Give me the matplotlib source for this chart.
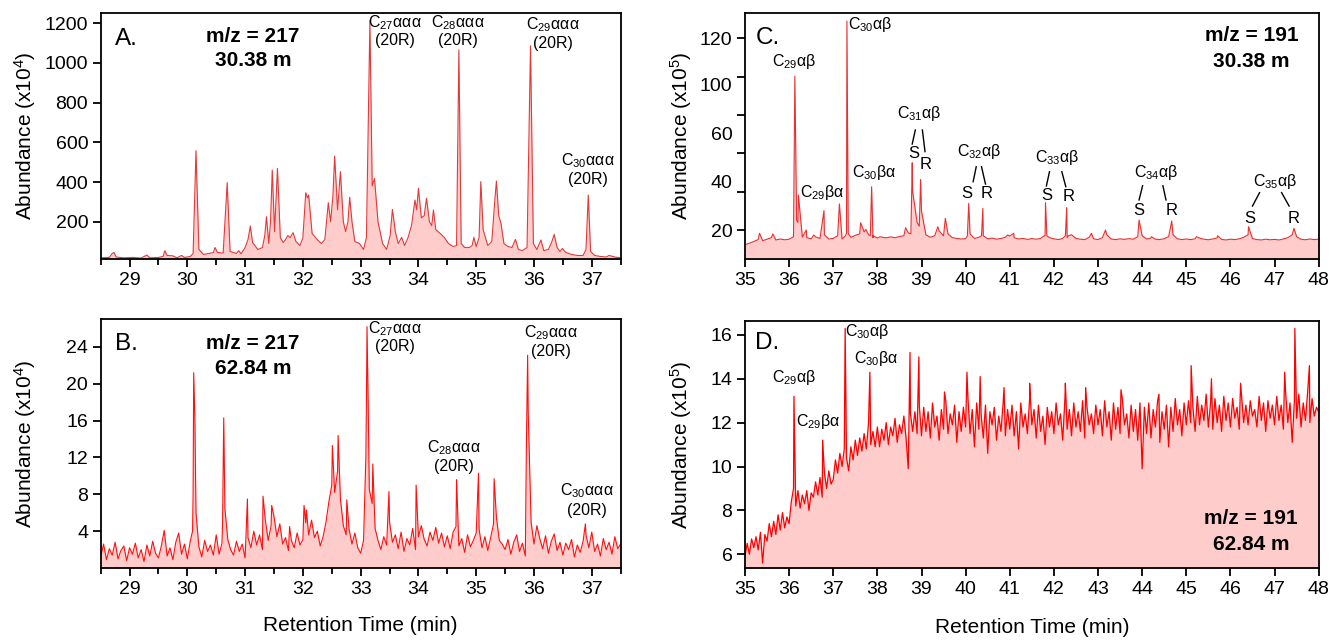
import numpy as np
import matplotlib
matplotlib.use('Agg')
import matplotlib.pyplot as plt
from matplotlib.ticker import MultipleLocator

plt.rcParams['font.family'] = ['Liberation Sans', 'DejaVu Sans']
plt.rcParams['mathtext.fontset'] = 'custom'
plt.rcParams['mathtext.rm'] = 'Liberation Sans'
plt.rcParams['mathtext.it'] = 'Liberation Sans:italic'
plt.rcParams['mathtext.bf'] = 'Liberation Sans:bold'

# --- A: m/z 217, 30.38 m  (time min, abundance x10^4) ---
a_trace = [
    (28.50, 18), (28.65, 20), (28.70, 40), (28.73, 45), (28.77, 22), (28.90, 18),
    (29.05, 20), (29.20, 17), (29.30, 32), (29.35, 18), (29.50, 20), (29.58, 25),
    (29.61, 54), (29.65, 30), (29.75, 28), (29.82, 18), (29.90, 30), (29.95, 20),
    (30.05, 25), (30.10, 40), (30.15, 558), (30.20, 60), (30.28, 35), (30.38, 40),
    (30.45, 45), (30.48, 70), (30.52, 45), (30.62, 42), (30.69, 397), (30.74, 50),
    (30.85, 40), (30.89, 54), (30.93, 38), (31.00, 70), (31.05, 110), (31.09, 178),
    (31.13, 95), (31.22, 60), (31.30, 70), (31.34, 130), (31.37, 225), (31.41, 90),
    (31.44, 200), (31.47, 460), (31.51, 150), (31.56, 469), (31.61, 120), (31.66, 95),
    (31.70, 110), (31.74, 130), (31.78, 120), (31.83, 145), (31.88, 100), (31.95, 80),
    (32.00, 120), (32.05, 346), (32.08, 320), (32.10, 334), (32.16, 140), (32.25, 110),
    (32.32, 90), (32.38, 110), (32.44, 296), (32.48, 200), (32.52, 330), (32.55, 531),
    (32.60, 260), (32.65, 452), (32.70, 200), (32.74, 150), (32.78, 200), (32.81, 323),
    (32.85, 200), (32.90, 100), (32.98, 90), (33.05, 60), (33.10, 120), (33.16, 1213),
    (33.20, 380), (33.24, 418), (33.30, 200), (33.38, 90), (33.45, 60), (33.51, 130),
    (33.55, 262), (33.60, 150), (33.65, 90), (33.71, 121), (33.76, 80), (33.82, 120),
    (33.88, 180), (33.94, 309), (33.97, 260), (34.00, 368), (34.05, 220), (34.10, 230),
    (34.14, 318), (34.19, 200), (34.23, 180), (34.26, 259), (34.30, 160), (34.38, 140),
    (34.45, 120), (34.52, 90), (34.60, 75), (34.66, 80), (34.70, 1066), (34.74, 90),
    (34.80, 70), (34.88, 70), (34.93, 80), (34.96, 121), (35.00, 75), (35.05, 120),
    (35.08, 402), (35.12, 160), (35.20, 80), (35.27, 100), (35.32, 300), (35.35, 405),
    (35.39, 230), (35.43, 190), (35.48, 90), (35.55, 75), (35.62, 70), (35.68, 111),
    (35.73, 60), (35.80, 55), (35.88, 70), (35.94, 1087), (35.99, 90), (36.05, 60),
    (36.12, 108), (36.17, 55), (36.25, 60), (36.31, 100), (36.35, 136), (36.40, 70),
    (36.45, 50), (36.49, 65), (36.55, 45), (36.65, 35), (36.75, 30), (36.85, 30),
    (36.90, 60), (36.94, 334), (36.98, 50), (37.05, 30), (37.15, 25), (37.25, 22),
    (37.30, 30), (37.40, 22), (37.50, 18),
]

# --- B: m/z 217, 62.84 m  (baseline every 0.05 min from 28.5, plus peaks) ---
b_start = 28.5
b_base = [
    1.2, 2.6, 0.9, 2.1, 1.4, 2.8, 1.0, 1.9, 2.4, 0.8, 2.2, 1.5, 2.7, 1.1, 2.0, 0.7, 2.5, 1.3, 2.9, 1.6,
    1.1, 2.4, 4.1, 1.3, 2.2, 0.9, 2.8, 3.8, 1.5, 2.6, 1.0, 2.9, 8.0, 6.0, 2.3, 1.2, 3.0, 1.8, 2.5, 1.4,
    3.6, 1.5, 2.7, 6.5, 3.1, 2.0, 1.4, 2.9, 1.8, 2.6, 1.1, 3.3, 2.2, 4.0, 2.5, 3.6, 2.0, 5.2, 3.0, 4.6,
    5.6, 3.4, 4.8, 2.6, 3.3, 1.9, 3.0, 2.2, 3.8, 2.5, 3.1, 4.9, 3.6, 5.2, 3.3, 4.0, 2.4, 3.4, 5.0, 7.2,
    9.0, 8.2, 10.5, 7.5, 4.6, 3.6, 4.2, 2.6, 3.8, 2.2, 1.6, 3.0, 18.0, 8.5, 7.0, 4.3, 3.0, 2.0, 3.4, 2.5,
    5.0, 2.8, 3.6, 2.1, 3.9, 1.8, 3.2, 2.5, 4.3, 2.0, 3.4, 4.6, 3.1, 2.4, 3.9, 3.0, 4.4, 2.7, 3.8, 2.3,
    3.5, 2.1, 3.9, 4.5, 2.4, 3.2, 1.7, 3.6, 2.3, 3.0, 3.8, 4.2, 2.2, 3.4, 1.9, 3.3, 4.8, 5.5, 3.0, 2.6,
    2.0, 3.1, 1.5, 2.8, 3.6, 1.8, 2.7, 1.3, 17.0, 5.0, 2.6, 4.6, 3.2, 2.1, 3.5, 1.6, 2.9, 3.7, 1.9, 2.8,
    1.4, 2.7, 2.0, 3.1, 1.2, 2.5, 1.7, 2.9, 3.6, 2.2, 3.9, 1.8, 2.6, 1.3, 3.2, 2.0, 2.8, 1.5, 3.4, 2.1,
    2.6,
]
b_peaks = [
    (30.09, 4.0), (30.11, 21.2), (30.13, 16.4), (30.61, 5.0), (30.63, 16.3),
    (31.04, 7.5), (31.31, 7.8), (31.46, 6.8), (31.77, 4.5), (32.02, 6.8),
    (32.06, 6.3), (32.51, 13.3), (32.61, 14.4), (32.76, 7.4), (33.09, 12.0),
    (33.11, 26.2), (33.13, 18.0), (33.21, 11.3), (33.49, 8.3), (33.96, 9.0),
    (34.66, 9.6), (35.04, 10.3), (35.31, 9.7), (35.87, 14.0), (35.89, 23.1),
    (36.89, 4.8),
]

# --- C: m/z 191, 30.38 m  (baseline every 0.1 min from 35, plus peaks) ---
c_start = 35.0
c_base = [
    12.3, 13.1, 14.0, 15.0, 14.4, 15.2, 16.0, 14.8, 15.3, 14.9,
    15.2, 16.5, 24.0, 16.3, 16.0, 15.4, 16.4, 15.6, 17.5, 15.3,
    15.6, 17.0, 15.3, 18.5, 16.2, 17.2, 18.0, 19.0, 17.5, 16.0,
    15.8, 16.3, 15.9, 16.4, 16.0, 16.6, 17.0, 18.5, 40.0, 24.0,
    30.0, 17.5, 16.2, 17.0, 19.5, 17.0, 18.0, 16.0, 15.6, 15.3,
    15.5, 18.0, 15.6, 16.2, 17.0, 15.4, 15.8, 15.2, 15.6, 16.2,
    16.8, 16.0, 15.3, 15.6, 15.1, 15.5, 15.2, 15.6, 17.0, 16.0,
    15.4, 15.0, 15.6, 16.0, 17.5, 15.6, 15.2, 15.0, 16.2, 15.4,
    15.0, 16.0, 17.5, 15.3, 15.0, 15.4, 15.1, 15.5, 15.2, 16.5,
    17.0, 15.3, 15.8, 15.2, 15.0, 15.5, 16.5, 17.5, 15.4, 15.0,
    15.3, 15.0, 15.4, 15.8, 15.2, 14.9, 15.3, 15.9, 15.1, 14.8,
    15.2, 15.0, 15.4, 16.2, 17.5, 15.5, 15.0, 14.8, 15.2, 14.9,
    15.1, 14.8, 15.3, 16.0, 17.5, 16.5, 15.2, 14.9, 15.3, 15.0,
    15.2,
]
c_peaks = [
    (35.33, 18.3), (35.63, 18.0), (36.10, 17.0), (36.13, 100.3), (36.17, 25.0),
    (36.21, 38.3), (36.39, 20.0), (36.56, 17.4), (36.79, 30.1), (37.14, 33.6),
    (37.28, 17.0), (37.31, 129.0), (37.34, 18.0), (37.62, 23.8), (37.74, 20.3),
    (37.84, 17.0), (37.87, 42.6), (37.90, 17.0), (38.06, 16.5), (38.64, 21.2),
    (38.76, 18.0), (38.79, 55.1), (38.95, 22.0), (38.98, 46.4), (39.37, 21.7),
    (39.54, 26.1), (40.04, 17.0), (40.07, 33.9), (40.36, 17.0), (40.39, 31.3),
    (40.95, 17.4), (41.09, 18.3), (41.78, 17.0), (41.81, 34.3), (41.84, 17.0),
    (42.26, 17.0), (42.29, 31.7), (42.33, 17.0), (42.85, 18.3), (43.17, 20.0),
    (43.93, 25.2), (44.21, 16.5), (44.67, 24.7), (45.23, 16.5), (45.71, 17.0),
    (46.41, 21.7), (47.44, 20.9),
]

# --- D: m/z 191, 62.84 m  (baseline every 0.05 min from 35, plus peaks) ---
d_start = 35.0
d_base = [
    5.9, 6.5, 6.0, 6.7, 6.3, 6.8, 6.2, 7.0, 5.6, 6.9, 6.6, 7.4, 6.8, 7.5, 6.9, 7.8, 7.1, 7.9, 7.2, 7.7,
    7.4, 8.4, 9.0, 8.2, 8.9, 8.1, 8.7, 8.3, 8.9, 8.0, 8.8, 8.6, 9.3, 8.7, 9.5, 8.6, 9.7, 9.0, 9.8, 9.2,
    9.4, 10.3, 9.7, 10.6, 10.0, 10.8, 10.4, 9.8, 10.9, 10.3, 11.2, 10.5, 11.3, 10.7, 11.5, 10.8, 12.0, 11.0, 11.6, 10.9,
    11.8, 10.9, 11.7, 11.2, 12.0, 11.0, 11.8, 11.4, 12.2, 11.1, 11.9, 11.5, 12.3, 11.3, 9.9, 12.4, 11.6, 12.5, 11.5, 12.8,
    11.4, 12.7, 11.6, 12.5, 11.3, 12.9, 11.8, 12.3, 11.2, 12.6, 11.7, 13.0, 11.5, 12.4, 11.9, 12.8, 11.1, 12.5, 11.6, 12.7,
    11.8, 13.2, 11.5, 12.6, 10.9, 12.9, 11.7, 12.4, 11.3, 12.8, 10.6, 12.5, 11.9, 12.7, 11.2, 12.3, 11.6, 12.9, 11.4, 12.6,
    11.7, 12.8, 11.4, 12.5, 10.8, 12.9, 11.8, 12.4, 11.5, 13.1, 11.9, 12.6, 11.3, 12.8, 11.6, 12.3, 11.0, 12.7, 11.8, 12.5,
    11.5, 12.9, 11.9, 12.4, 11.2, 13.1, 11.7, 12.6, 11.4, 12.9, 11.8, 12.5, 11.6, 13.0, 11.3, 12.7, 11.9, 12.4, 11.5, 12.8,
    11.9, 12.6, 11.4, 13.0, 11.8, 12.5, 11.2, 12.9, 11.7, 12.7, 11.5, 13.1, 11.9, 12.4, 11.3, 12.8, 11.6, 12.6, 11.2, 12.9,
    9.9, 12.7, 11.5, 12.9, 11.3, 12.6, 11.8, 13.0, 11.1, 12.5, 11.7, 12.8, 10.9, 12.7, 11.6, 13.1, 11.9, 12.6, 11.4, 12.9,
    11.9, 13.0, 12.0, 12.7, 11.6, 13.2, 11.9, 12.8, 12.1, 13.3, 11.8, 12.9, 11.7, 13.1, 12.0, 12.8, 11.6, 13.2, 12.1, 12.9,
    11.8, 13.1, 12.2, 12.7, 11.7, 13.3, 12.0, 12.8, 11.9, 13.0, 12.3, 12.6, 11.8, 13.2, 12.1, 12.9, 11.6, 13.0, 12.2, 12.8,
    11.9, 13.2, 12.1, 12.8, 11.7, 13.4, 12.0, 12.9, 11.1, 13.0, 12.2, 13.3, 11.8, 12.9, 12.1, 13.4, 12.0, 13.1, 12.3, 12.7,
    12.5,
]
d_peaks = [
    (36.11, 13.2), (36.76, 11.2), (37.27, 16.3), (37.83, 14.3), (38.74, 15.2),
    (38.94, 15.0), (39.52, 13.4), (40.03, 14.3), (40.33, 14.1), (40.87, 13.6),
    (41.45, 13.8), (42.26, 13.8), (42.72, 13.6), (43.52, 13.5), (44.38, 13.3),
    (45.11, 14.6), (45.57, 14.0), (46.23, 13.8), (47.23, 14.3), (47.46, 16.3),
    (47.79, 14.6),
]


def merge(start, step, base, peaks):
    t = np.round(start + step * np.arange(len(base)), 3)
    pt, pv = zip(*peaks)
    tt = np.concatenate([t, pt])
    vv = np.concatenate([base, pv])
    order = np.argsort(tt, kind='stable')
    return tt[order], vv[order]


def draw(ax, t, v, line_color, lw):
    ax.fill_between(t, v, 0, color='#ffcccc', lw=0)
    ax.plot(t, v, color=line_color, lw=lw)


def style(ax, xlim, ylim):
    ax.set_xlim(*xlim)
    ax.set_ylim(*ylim)
    for s in ax.spines.values():
        s.set_linewidth(1.3)
    ax.tick_params(direction='out', length=6, width=1.3, labelsize=14, pad=3)
    ax.tick_params(which='minor', direction='out', length=4, width=1.3)


fig = plt.figure(figsize=(13.37, 6.43), dpi=100)
axA = fig.add_axes([0.0753, 0.5967, 0.3889, 0.3835])
axB = fig.add_axes([0.0753, 0.1166, 0.3889, 0.3868])
axC = fig.add_axes([0.5572, 0.5967, 0.4291, 0.3835])
axD = fig.add_axes([0.5572, 0.1162, 0.4291, 0.3851])

# A
ta, va = zip(*a_trace)
draw(axA, ta, va, '#e03a3a', 0.8)
style(axA, (28.5, 37.5), (10.5, 1253))
axA.set_xticks(range(29, 38))
axA.xaxis.set_minor_locator(MultipleLocator(0.5))
axA.set_yticks(range(200, 1201, 200))
axA.set_ylabel('Abundance (x10$^4$)', fontsize=15)
axA.yaxis.set_label_coords(-0.121, 0.5)

# B
tb, vb = merge(b_start, 0.05, b_base, b_peaks)
draw(axB, tb, vb, '#ff1010', 0.8)
style(axB, (28.5, 37.5), (0, 27))
axB.set_xticks(range(29, 38))
axB.xaxis.set_minor_locator(MultipleLocator(0.5))
axB.set_yticks(range(4, 25, 4))
axB.set_ylabel('Abundance (x10$^4$)', fontsize=15)
axB.yaxis.set_label_coords(-0.121, 0.5)
axB.set_xlabel('Retention Time (min)', fontsize=15)
axB.xaxis.set_label_coords(0.5, -0.193)

# C  (tick marks evenly spaced, labels sit where the original put them)
tc, vc = merge(c_start, 0.1, c_base, c_peaks)
draw(axC, tc, vc, '#e83030', 0.8)
style(axC, (35, 48), (4.7, 133.4))
axC.set_xticks(range(35, 49))
axC.yaxis.remove_overlapping_locs = False
axC.set_yticks([20, 45.2, 70.4, 95.7, 120], ['20', '40', '60', '100', '120'])
axC.set_yticks(range(20, 121, 20), minor=True)
axC.tick_params(axis='y', which='major', length=0, labelsize=14, pad=9)
axC.tick_params(axis='y', which='minor', length=6, width=1.3)
axC.set_ylabel('Abundance (x10$^5$)', fontsize=15)
axC.yaxis.set_label_coords(-0.088, 0.5)

# D
td, vd = merge(d_start, 0.05, d_base, d_peaks)
draw(axD, td, vd, '#ff0000', 0.9)
style(axD, (35, 48), (5.36, 16.65))
axD.set_xticks(range(35, 49))
axD.set_yticks(range(6, 17, 2))
axD.set_ylabel('Abundance (x10$^5$)', fontsize=15)
axD.yaxis.set_label_coords(-0.088, 0.5)
axD.set_xlabel('Retention Time (min)', fontsize=15)
axD.xaxis.set_label_coords(0.5, -0.201)

# panel letters and headers
big = dict(fontsize=17.5, va='center', ha='left')
head = dict(fontsize=15, fontweight='bold', ha='center', va='center')
axA.text(0.0275, 0.895, 'A.', transform=axA.transAxes, **big)
axA.text(0.293, 0.903, 'm/z = 217', transform=axA.transAxes, **head)
axA.text(0.293, 0.806, '30.38 m', transform=axA.transAxes, **head)
axB.text(0.0275, 0.90, 'B.', transform=axB.transAxes, **big)
axB.text(0.293, 0.903, 'm/z = 217', transform=axB.transAxes, **head)
axB.text(0.293, 0.803, '62.84 m', transform=axB.transAxes, **head)
axC.text(0.018, 0.896, 'C.', transform=axC.transAxes, **big)
axC.text(0.883, 0.909, 'm/z = 191', transform=axC.transAxes, **head)
axC.text(0.883, 0.804, '30.38 m', transform=axC.transAxes, **head)
axD.text(0.017, 0.911, 'D.', transform=axD.transAxes, **big)
axD.text(0.882, 0.201, 'm/z = 191', transform=axD.transAxes, **head)
axD.text(0.882, 0.097, '62.84 m', transform=axD.transAxes, **head)

# peak labels
pk = dict(fontsize=11.5, ha='center', va='center')
for ax, x, y1, y2, n in [(axA, 33.59, 1204, 1111, '27'), (axA, 34.68, 1204, 1111, '28'),
                         (axA, 36.33, 1191, 1099, '29'), (axA, 36.93, 510, 414, '30'),
                         (axB, 33.60, 26.0, 24.0, '27'), (axB, 36.29, 25.55, 23.46, '29'),
                         (axB, 34.61, 13.08, 11.05, '28'), (axB, 36.91, 8.45, 6.28, '30')]:
    ax.text(x, y1, 'C$_{' + n + '}$ααα', **pk)
    ax.text(x, y2, '(20R)', **pk)

for x, y, s in [(36.11, 107.8, 'C$_{29}$αβ'), (36.76, 39.5, 'C$_{29}$βα'),
                (37.84, 127.0, 'C$_{30}$αβ'), (37.94, 49.9, 'C$_{30}$βα')]:
    axC.text(x, y, s, **pk)

# homohopane S/R pairs in C
pairs = [('31', 38.94, 80.9, (38.82, 60.0), (39.09, 54.3), (38.86, 72.2, 38.79, 64.9), (39.02, 72.2, 39.08, 60.9)),
         ('32', 40.30, 60.9, (40.03, 38.8), (40.48, 38.8), (40.24, 53.0, 40.17, 45.2), (40.36, 53.0, 40.45, 44.0)),
         ('33', 42.08, 57.7, (41.83, 37.9), (42.33, 37.4), (41.90, 50.4, 41.83, 43.0), (42.18, 50.4, 42.27, 42.6)),
         ('34', 44.33, 49.9, (43.93, 30.1), (44.67, 30.1), (44.01, 43.1, 43.93, 35.7), (44.47, 43.1, 44.54, 35.7)),
         ('35', 47.02, 45.2, (46.43, 26.1), (47.44, 26.1), (46.66, 39.5, 46.50, 32.5), (47.16, 39.5, 47.33, 32.5))]
for n, x, y, s_pos, r_pos, l1, l2 in pairs:
    axC.text(x, y, 'C$_{' + n + '}$αβ', **pk)
    axC.text(s_pos[0], s_pos[1], 'S', fontsize=12, ha='center', va='center')
    axC.text(r_pos[0], r_pos[1], 'R', fontsize=12, ha='center', va='center')
    axC.plot([l1[0], l1[2]], [l1[1], l1[3]], color='k', lw=1)
    axC.plot([l2[0], l2[2]], [l2[1], l2[3]], color='k', lw=1)

for x, y, s in [(36.12, 14.07, 'C$_{29}$αβ'), (36.66, 12.07, 'C$_{29}$βα'),
                (37.76, 16.15, 'C$_{30}$αβ'), (37.97, 14.93, 'C$_{30}$βα')]:
    axD.text(x, y, s, **pk)

fig.savefig('out.png', dpi=100)
